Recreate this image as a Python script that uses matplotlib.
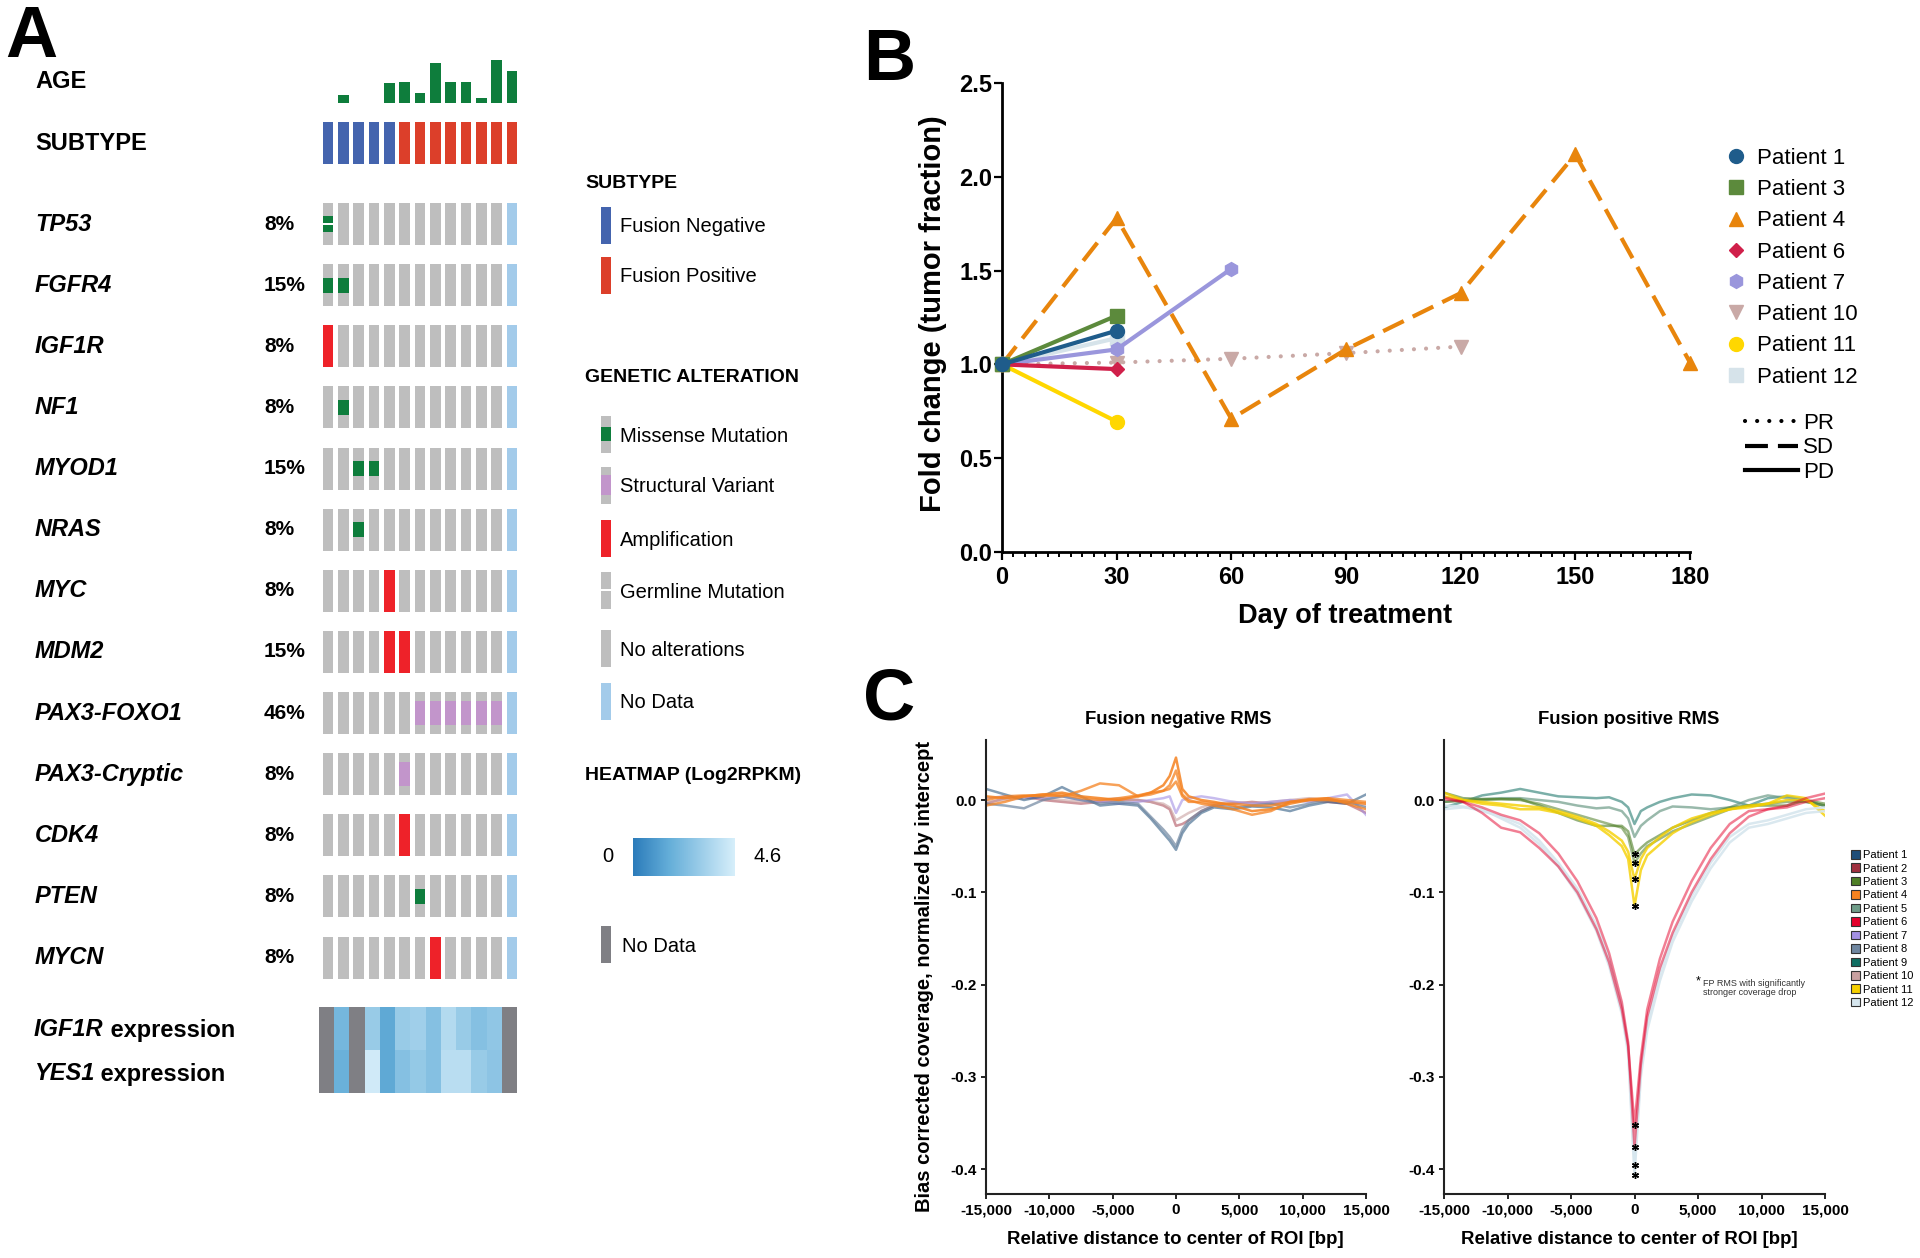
import numpy as np
import matplotlib
matplotlib.use("Agg")
import matplotlib.pyplot as plt
import matplotlib.transforms as mtransforms
from matplotlib.colors import LinearSegmentedColormap, Normalize
from matplotlib.cm import ScalarMappable
from matplotlib.lines import Line2D
from matplotlib.patches import Patch
from matplotlib.ticker import MultipleLocator, FuncFormatter

plt.rcParams['font.family'] = ['Liberation Sans', 'DejaVu Sans']
plt.rcParams['axes.unicode_minus'] = False

# ---------------- panel A : oncoprint ----------------
age = [np.nan, 3.1, np.nan, np.nan, 8.1, 8.5, 3.8, 15.8, 8.5, 8.5, 2.1, 17.0, 12.8]
subtype = ['neg'] * 5 + ['pos'] * 8
genes = ['TP53', 'FGFR4', 'IGF1R', 'NF1', 'MYOD1', 'NRAS', 'MYC', 'MDM2',
         'PAX3-FOXO1', 'PAX3-Cryptic', 'CDK4', 'PTEN', 'MYCN']
gene_pct = ['8%', '15%', '8%', '8%', '15%', '8%', '8%', '15%', '46%', '8%', '8%', '8%', '8%']
# M missense, G germline missense, A amplification, S structural variant, N no data
alterations = ['G...........N',
               'MM..........N',
               'A...........N',
               '.M..........N',
               '..MM........N',
               '..M.........N',
               '....A.......N',
               '....AA......N',
               '......SSSSSSN',
               '.....S......N',
               '.....A......N',
               '......M.....N',
               '.......A....N']
expr_genes = ['IGF1R', 'YES1']
igf1r_expr = [np.nan, 2.1, np.nan, 3.0, 1.5, 3.0, 3.2, 2.5, 3.7, 3.0, 2.5, 2.8, np.nan]
yes1_expr = [np.nan, 1.8, np.nan, 4.45, 1.5, 2.5, 2.9, 2.5, 3.85, 3.85, 3.0, 2.7, np.nan]

# ---------------- panel B : fold change ----------------
days = [0, 30, 60, 90, 120, 150, 180]
b_patients = ['Patient 1', 'Patient 3', 'Patient 4', 'Patient 6',
              'Patient 7', 'Patient 10', 'Patient 11', 'Patient 12']
fc_p1 = [1.0, 1.18]
fc_p3 = [1.0, 1.26]
fc_p4 = [1.0, 1.78, 0.71, 1.08, 1.38, 2.12, 1.01]
fc_p6 = [1.0, 0.975]
fc_p7 = [1.0, 1.08, 1.51]
fc_p10 = [1.0, 1.01, 1.03, 1.06, 1.095]
fc_p11 = [1.0, 0.695]
fc_p12 = [1.0, 1.14]
b_response = ['PD', 'PD', 'SD', 'PD', 'PD', 'PR', 'PD', 'PD']

# ---------------- panel C : coverage profiles ----------------
c_pos = [-15000, -13500, -12000, -10500, -9000, -7500, -6000, -4500, -3000, -2000, -1000, -500,
         0, 500, 1000, 2000, 3000, 4500, 6000, 7500, 9000, 10500, 12000, 13500, 15000]
# fusion negative
neg_p1 = [.012, .006, 0, .004, .014, .004, -.006, -.004, -.006, -.020, -.036, -.044, -.054,
          -.036, -.026, -.014, -.008, -.010, -.007, -.008, -.012, -.006, -.002, -.004, .006]
neg_p8 = [-.004, -.006, -.009, 0, .004, 0, -.004, -.002, -.004, -.018, -.032, -.040, -.050,
          -.032, -.022, -.012, -.006, -.008, -.006, -.004, -.008, -.004, 0, -.002, -.008]
neg_p4a = [.004, .002, .004, .006, .008, .004, .002, 0, .004, .008, .016, .026, .046,
           .012, .004, 0, -.002, -.006, -.012, -.010, -.004, 0, 0, -.002, -.004]
neg_p4b = [-.006, -.002, .004, .006, .004, .010, .018, .016, .004, .006, .010, .016, .032,
           .006, 0, -.004, -.006, -.010, -.016, -.012, -.002, 0, .002, -.004, -.010]
neg_p4c = [0, .004, .005, .004, .006, .002, 0, .002, .005, .008, .010, .012, .020,
           .004, -.002, -.002, -.004, -.004, -.006, -.006, -.002, .001, .002, 0, -.002]
neg_p7 = [.002, .004, .003, .002, .004, 0, -.002, -.004, -.002, 0, .002, .004, -.014,
          0, .002, .004, .002, -.002, -.004, -.002, 0, -.002, .002, .006, -.016]
neg_p2 = [-.004, .002, .004, 0, -.002, -.004, -.002, 0, 0, -.002, -.006, -.010, -.028,
          -.026, -.022, -.012, -.006, -.004, -.002, -.004, -.002, 0, -.002, -.004, -.014]
neg_p10 = [-.002, 0, .002, .002, 0, -.002, 0, .002, 0, -.002, -.004, -.008, -.022,
           -.018, -.014, -.008, -.004, -.002, -.004, -.002, 0, .002, 0, -.002, -.006]
# fusion positive
pos_p6a = [.003, -.002, -.014, -.030, -.035, -.052, -.072, -.100, -.140, -.176, -.227, -.267, -.352,
           -.279, -.227, -.172, -.132, -.088, -.052, -.026, -.012, -.010, -.006, .002, .007]
pos_p6b = [.001, -.002, -.008, -.016, -.022, -.036, -.058, -.088, -.128, -.166, -.219, -.263, -.376,
           -.287, -.235, -.182, -.144, -.100, -.064, -.036, -.018, -.010, -.008, -.002, .002]
pos_p12a = [-.006, -.007, -.012, -.018, -.026, -.044, -.068, -.096, -.136, -.172, -.223, -.267, -.396,
            -.291, -.243, -.188, -.148, -.104, -.068, -.040, -.026, -.022, -.016, -.010, -.008]
pos_p12b = [-.010, -.008, -.010, -.020, -.030, -.048, -.072, -.102, -.142, -.180, -.232, -.275, -.407,
            -.300, -.250, -.196, -.154, -.110, -.074, -.046, -.030, -.026, -.020, -.014, -.012]
pos_p3a = [.008, .002, .001, .001, .001, -.006, -.014, -.022, -.028, -.028, -.028, -.034, -.059,
           -.052, -.046, -.038, -.030, -.022, -.014, -.008, -.006, -.006, -.006, 0, -.004]
pos_p3b = [-.002, -.001, 0, .001, 0, -.004, -.010, -.016, -.022, -.026, -.030, -.040, -.068,
           -.058, -.050, -.042, -.034, -.026, -.018, -.010, -.006, -.004, -.002, -.002, -.006]
pos_p9 = [-.008, -.002, .005, .008, .012, .008, .004, .003, .002, .003, -.002, -.008, -.026,
          -.012, -.008, -.002, .002, .006, .005, 0, -.006, .002, .004, 0, -.007]
pos_p5 = [-.002, 0, .001, .002, .002, 0, -.002, -.006, -.009, -.008, -.012, -.020, -.040,
          -.028, -.022, -.012, -.007, -.008, -.010, -.008, 0, .005, .002, -.002, -.006]
pos_p11a = [.008, 0, -.004, -.006, -.010, -.010, -.014, -.020, -.028, -.038, -.050, -.064, -.115,
            -.076, -.060, -.048, -.036, -.024, -.016, -.010, -.008, -.004, .005, .002, -.017]
pos_p11b = [.004, 0, -.002, -.004, -.006, -.008, -.012, -.018, -.026, -.034, -.044, -.056, -.086,
            -.064, -.052, -.040, -.030, -.020, -.014, -.010, -.006, -.004, 0, 0, -.012]
sig_drop = [-0.059, -0.068, -0.086, -0.115, -0.352, -0.376, -0.396, -0.407]
c_patients = ['Patient %d' % i for i in range(1, 13)]
c_colors = ['#1F4E79', '#A0303F', '#4E7F26', '#F58220', '#6E9C88', '#E4002B',
            '#A390E4', '#6F86A0', '#0F6E62', '#C9A0A0', '#F5D000', '#D6E6EE']

# ---------------- layout helpers ----------------
W, H = 1920, 1258
fig = plt.figure(figsize=(W / 100, H / 100), dpi=100)


def px_axes(l, t, r, b):
    return fig.add_axes([l / W, 1 - b / H, (r - l) / W, (b - t) / H])


def ptext(x, y, s, **kw):
    return fig.text(x / W, 1 - y / H, s, **kw)


GREY = '#BEBEBE'
NODATA = '#A3CBEA'
GREEN = '#0E7D3C'
RED = '#EE2229'
PURPLE = '#C295CB'
BLUE_SUB = '#4464AE'
RED_SUB = '#DC3F2A'


def draw_cell(ax, x, y, code, w, h):
    base = {'N': NODATA, 'A': RED}.get(code, GREY)
    ax.bar(x, h, bottom=y - h / 2, width=w, color=base, linewidth=0)
    if code in 'MG':
        ax.bar(x, h * 0.36, bottom=y - h * 0.18, width=w, color=GREEN, linewidth=0)
    if code == 'S':
        ax.bar(x, h * 0.56, bottom=y - h * 0.28, width=w, color=PURPLE, linewidth=0)
    if code in 'GW':
        ax.bar(x, h * 0.07, bottom=y - h * 0.035, width=w, color='white', linewidth=0)


ax_px = fig.add_axes([0, 0, 1, 1])
ax_px.set_xlim(0, W)
ax_px.set_ylim(H, 0)
ax_px.axis('off')

# ---------------- panel A ----------------
ptext(5, 57, 'A', fontsize=52, fontweight='bold', va='baseline')
cols = np.arange(len(subtype))
x0, x1 = 320.3, 519.8

ax_age = px_axes(x0, 58, x1, 103)
ax_age.bar(cols, np.nan_to_num(age), width=0.7, color=GREEN, linewidth=0)
ax_age.set_xlim(-0.5, 12.5)
ax_age.set_ylim(0, 17.8)
ax_age.axis('off')

ax_sub = px_axes(x0, 122, x1, 164)
ax_sub.bar(cols, 1, width=0.7, color=[BLUE_SUB if s == 'neg' else RED_SUB for s in subtype], linewidth=0)
ax_sub.set_xlim(-0.5, 12.5)
ax_sub.set_ylim(0, 1)
ax_sub.axis('off')

ax_on = px_axes(x0, 224 - 30.55, x1, 957.6 + 30.55)
for r, row in enumerate(alterations):
    for c, code in enumerate(row):
        draw_cell(ax_on, c, r, code, 0.7, 0.687)
ax_on.set_xlim(-0.5, 12.5)
ax_on.set_ylim(12.5, -0.5)
ax_on.axis('off')

lab_tr = mtransforms.blended_transform_factory(fig.transFigure, ax_on.transData)
for r, (g, p) in enumerate(zip(genes, gene_pct)):
    ax_on.text(35 / W, r, g, transform=lab_tr, fontsize=17, fontweight='bold',
               fontstyle='italic', va='center')
    ax_on.text(264 / W, r, p, transform=lab_tr, fontsize=15, fontweight='bold', va='center')

ptext(35, 82, 'AGE', fontsize=17, fontweight='bold', va='center')
ptext(35, 143, 'SUBTYPE', fontsize=17, fontweight='bold', va='center')

heat_cmap = LinearSegmentedColormap.from_list('heat', [(0, '#2B7BBA'), (0.35, '#63ADD8'), (1, '#D6EEFA')])
heat_cmap.set_bad('#7F7F84')
heat_norm = Normalize(0, 4.6)
ax_heat = px_axes(319, 1007, 517, 1093)
ax_heat.imshow(np.array([igf1r_expr, yes1_expr]), cmap=heat_cmap, norm=heat_norm, aspect='auto')
ax_heat.axis('off')

for g, y in zip(expr_genes, [1030, 1074]):
    t = ptext(34, y, g, fontsize=17, fontweight='bold', fontstyle='italic', va='center')
    ax_px.annotate(' expression', xy=(1, 0), xycoords=t, fontsize=17, fontweight='bold',
                   va='bottom', ha='left')

# legend of panel A
ptext(585, 184, 'SUBTYPE', fontsize=14, fontweight='bold', va='center')
for lab, col, y in [('Fusion Negative', BLUE_SUB, 225), ('Fusion Positive', RED_SUB, 275)]:
    ax_px.bar(606, 37, bottom=y - 18.5, width=10, color=col, linewidth=0)
    ptext(620, y + 2, lab, fontsize=14.5, va='center')
ptext(585, 377, 'GENETIC ALTERATION', fontsize=14, fontweight='bold', va='center')
alt_legend = [('Missense Mutation', 'M'), ('Structural Variant', 'S'), ('Amplification', 'A'),
              ('Germline Mutation', 'W'), ('No alterations', '.'), ('No Data', 'N')]
for (lab, code), y in zip(alt_legend, [434, 485, 538, 590, 648, 701]):
    draw_cell(ax_px, 606, y, code, 10, 37)
    ptext(620, y + 2, lab, fontsize=14.5, va='center')
ptext(585, 776, 'HEATMAP (Log2RPKM)', fontsize=14, fontweight='bold', va='center')
cax = px_axes(633, 838, 735, 876)
cb = fig.colorbar(ScalarMappable(norm=heat_norm, cmap=heat_cmap), cax=cax, orientation='horizontal')
cb.set_ticks([])
cb.outline.set_visible(False)
ptext(608, 857, '0', fontsize=14.5, va='center', ha='center')
ptext(753, 857, '4.6', fontsize=14.5, va='center')
ax_px.bar(606, 37, bottom=944 - 18.5, width=10, color='#7F7F84', linewidth=0)
ptext(622, 946, 'No Data', fontsize=14.5, va='center')

# ---------------- panel B ----------------
ptext(863, 80, 'B', fontsize=52, fontweight='bold', va='baseline')
ax_b = px_axes(1002, 83, 1690, 552)
b_series = [fc_p1, fc_p3, fc_p4, fc_p6, fc_p7, fc_p10, fc_p11, fc_p12]
b_colors = ['#1F5C8B', '#5C8A3C', '#E8850C', '#D0204A', '#9A96DC', '#C9A9A6', '#FFD700', '#D6E3EA']
b_markers = ['o', 's', '^', 'D', 'h', 'v', 'o', 's']
b_msize = [10, 10, 10, 7.5, 10, 10, 10, 10]
styles = {'PR': (0, (0.01, 2.9)), 'SD': (0, (5.5, 2.4)), 'PD': '-'}
order = [5, 2, 7, 6, 4, 3, 1, 0]
for i in order:
    fc = b_series[i]
    ax_b.plot(days[:len(fc)], fc, color=b_colors[i], ls=styles[b_response[i]], lw=3,
              marker=b_markers[i], ms=b_msize[i], clip_on=False, zorder=3 + order.index(i),
              dash_capstyle='round' if b_response[i] == 'PR' else 'butt')
ax_b.set_xlim(0, 180)
ax_b.set_ylim(0, 2.5)
ax_b.set_xticks(days)
ax_b.xaxis.set_minor_locator(MultipleLocator(3))
ax_b.set_yticks([0, 0.5, 1.0, 1.5, 2.0, 2.5])
ax_b.yaxis.set_major_formatter(FuncFormatter(lambda v, p: '%.1f' % v))
for s in ['top', 'right']:
    ax_b.spines[s].set_visible(False)
for s in ['left', 'bottom']:
    ax_b.spines[s].set_linewidth(2)
ax_b.tick_params(which='major', length=6, width=1.6, direction='out')
ax_b.tick_params(which='minor', length=3.5, width=1.4, direction='out')
ax_b.tick_params(axis='y', pad=1)
ax_b.tick_params(axis='x', pad=4)
for lab in ax_b.get_xticklabels() + ax_b.get_yticklabels():
    lab.set_family(['Liberation Sans Narrow', 'Liberation Sans'])
    lab.set_fontweight('bold')
    lab.set_fontsize(17)
ptext(933, 314, 'Fold change (tumor fraction)', fontsize=21, fontweight='bold',
      rotation=90, ha='center', va='center')
ptext(1345, 616, 'Day of treatment', fontsize=19.5, fontweight='bold', ha='center', va='center')

pat_handles = [Line2D([], [], ls='', marker=m, color=c, ms=ms)
               for m, c, ms in zip(b_markers, b_colors, b_msize)]
fig.legend(pat_handles, b_patients, loc='upper left', bbox_to_anchor=(1725 / W, 1 - 148 / H),
           frameon=False, fontsize=16, handlelength=1.0, handletextpad=0.45,
           labelspacing=0.46, borderpad=0, borderaxespad=0)
resp_handles = [Line2D([], [], color='k', lw=3, ls=styles[k],
                       dash_capstyle='round' if k == 'PR' else 'butt') for k in ['PR', 'SD', 'PD']]
fig.legend(resp_handles, ['PR', 'SD', 'PD'], loc='upper left', bbox_to_anchor=(1745 / W, 1 - 413 / H),
           frameon=False, fontsize=16, handlelength=2.4, handletextpad=0.23,
           labelspacing=0.15, borderpad=0, borderaxespad=0)

# ---------------- panel C ----------------
ptext(863, 720, 'C', fontsize=52, fontweight='bold', va='baseline')
ax_cl = px_axes(986, 739.6, 1366, 1194)
ax_cr = px_axes(1444, 739.6, 1825, 1194)

neg_lines = [(neg_p2, 1, 0.5), (neg_p10, 9, 0.6), (neg_p7, 6, 0.6), (neg_p1, 0, 0.55),
             (neg_p8, 7, 0.7), (neg_p4c, 3, 0.75), (neg_p4b, 3, 0.75), (neg_p4a, 3, 0.85)]
pos_lines = [(pos_p9, 8, 0.55), (pos_p5, 4, 0.7), (pos_p3b, 2, 0.55), (pos_p3a, 2, 0.6),
             (pos_p11b, 10, 0.8), (pos_p11a, 10, 0.8), (pos_p12b, 11, 0.9), (pos_p12a, 11, 0.9),
             (pos_p6b, 5, 0.5), (pos_p6a, 5, 0.5)]
for ax, lines in [(ax_cl, neg_lines), (ax_cr, pos_lines)]:
    for vals, ci, a in lines:
        ax.plot(c_pos, vals, color=c_colors[ci], lw=1.8, alpha=a)
ax_cr.plot([0] * len(sig_drop), sig_drop, ls='', marker=(6, 2, 0), ms=5, mew=1, color='k')

for ax in [ax_cl, ax_cr]:
    ax.set_xlim(-15000, 15000)
    ax.set_ylim(-0.4271, 0.0655)
    ax.set_xticks(np.arange(-15000, 15001, 5000))
    ax.set_yticks([0, -0.1, -0.2, -0.3, -0.4])
    ax.xaxis.set_major_formatter(FuncFormatter(lambda v, p: '{:,}'.format(int(v))))
    ax.yaxis.set_major_formatter(FuncFormatter(lambda v, p: '%.1f' % v if abs(v) > 1e-9 else '0.0'))
    for s in ['top', 'right']:
        ax.spines[s].set_visible(False)
    for s in ['left', 'bottom']:
        ax.spines[s].set_linewidth(1.5)
        ax.spines[s].set_color('#222222')
    ax.tick_params(length=3.5, width=1.2, direction='out', labelsize=11, pad=3)
    for lab in ax.get_xticklabels() + ax.get_yticklabels():
        lab.set_fontweight('bold')

ptext(1178, 719, 'Fusion negative RMS', fontsize=13.3, fontweight='bold', ha='center', va='center')
ptext(1629, 719, 'Fusion positive RMS', fontsize=13.3, fontweight='bold', ha='center', va='center')
ptext(925, 977, 'Bias corrected coverage, normalized by intercept', fontsize=14.5,
      fontweight='bold', rotation=90, ha='center', va='center')
ptext(1175, 1239, 'Relative distance to center of ROI [bp]', fontsize=13.4,
      fontweight='bold', ha='center', va='center')
ptext(1629, 1239, 'Relative distance to center of ROI [bp]', fontsize=13.4,
      fontweight='bold', ha='center', va='center')

ptext(1698, 981, '*', fontsize=9, ha='center', va='center')
ptext(1703, 988, 'FP RMS with significantly\nstronger coverage drop', fontsize=6.5,
      color='#333333', va='center', linespacing=1.0)

c_handles = [Patch(facecolor=c, edgecolor='#333333', lw=0.8) for c in c_colors]
ax_cr.legend(c_handles, c_patients, loc='upper left', bbox_to_anchor=(1851 / W, 1 - 850 / H),
             bbox_transform=fig.transFigure, frameon=False, fontsize=8, handlelength=0.8,
             handleheight=0.8, handletextpad=0.25, labelspacing=0.3, borderpad=0, borderaxespad=0)

fig.savefig('out.png', dpi=100)
